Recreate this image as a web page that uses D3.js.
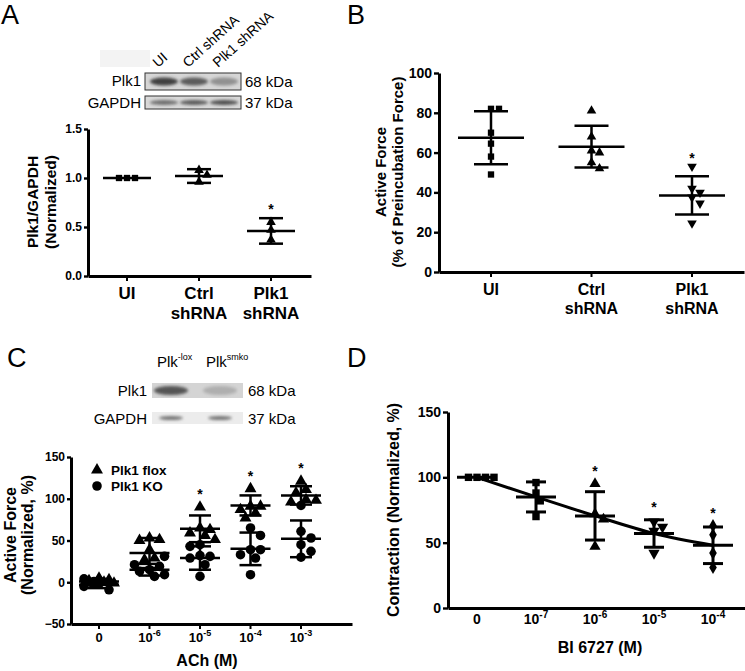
<!DOCTYPE html>
<html><head><meta charset="utf-8">
<script src="https://cdn.jsdelivr.net/npm/d3@7"></script>
<style>
body{margin:0;background:#fff}
svg{display:block}
text{font-family:"Liberation Sans",Arial,Helvetica,sans-serif;fill:#000}
</style>
</head><body>
<script>
// ================= DATA =================
// Panel A
const aCategories = ["UI", "Ctrl shRNA", "Plk1 shRNA"];
const aTickLabels = [["UI"], ["Ctrl", "shRNA"], ["Plk1", "shRNA"]];
const aValues = [[1.0, 1.0, 1.0], [1.08, 1.03, 0.96], [0.55, 0.47, 0.37]];
const aMeans = [1.0, 1.02, 0.46];
const aSDs = [0.0, 0.07, 0.13];
const aSignif = [false, false, true];
const aSymbols = ["square", "triangle", "triangle"];
const aTicks = [0, 0.5, 1.0, 1.5];
const aBlotLanes = ["UI", "Ctrl shRNA", "Plk1 shRNA"];
const aBlotPlk1 = [0.85, 0.72, 0.45];
const aBlotGapdh = [0.62, 0.72, 0.78];

// Panel B
const bCategories = ["UI", "Ctrl shRNA", "Plk1 shRNA"];
const bTickLabels = [["UI"], ["Ctrl", "shRNA"], ["Plk1", "shRNA"]];
const bValues = [
  [82, 82, 70, 64.5, 58, 49],
  [81, 68, 61, 60, 55, 52],
  [53, 42, 40, 37.5, 34.5, 24.5]
];
const bMeans = [67.5, 63, 38.5];
const bSDs = [13.3, 10.5, 9.6];
const bSignif = [false, false, true];
const bSymbols = ["square", "triangle", "triangleDown"];
const bTicks = [0, 20, 40, 60, 80, 100];

// Panel C
const cCategories = ["0", "-6", "-5", "-4", "-3"];
const cSeries = ["Plk1 flox", "Plk1 KO"];
const cFlox = [
  [5, 3, 2, 0, -1, -3],
  [53, 51, 50, 39, 29, 27],
  [90, 65, 63, 59, 56, 51],
  [112, 91, 91, 87, 83, 77],
  [121, 111, 107, 99, 98, 96]
];
const cKO = [
  [4, 1, -2, -5, -9, 2],
  [31, 21, 19, 15, 13, 9, 7],
  [45, 43, 32, 31, 29, 21, 7],
  [65, 56, 39, 39, 33, 29, 9],
  [92, 61, 53, 45, 37, 30]
];
const cFloxMean = [1, 35, 64, 92, 104];
const cFloxSD = [3, 18, 16, 12, 11];
const cKOMean = [-3, 15, 29, 40, 52];
const cKOSD = [4, 7, 14, 19.5, 22];
const cSignif = [false, false, true, true, true];
const cTicks = [-50, 0, 50, 100, 150];
const cBlotLanes = ["-lox", "smko"];
const cBlotPlk1 = [0.75, 0.3];
const cBlotGapdh = [0.6, 0.6];

// Panel D
const dCategories = ["0", "-7", "-6", "-5", "-4"];
const dValues = [
  [100, 100, 100, 100],
  [96, 88, 82, 70],
  [95, 72, 68, 47],
  [66, 62, 59, 42],
  [63, 56, 42, 31]
];
const dMeans = [100, 85, 70.5, 57, 48];
const dSDs = [0, 11.5, 18.5, 10.5, 14];
const dSignif = [false, false, true, true, true];
const dSymbols = ["square", "square", "triangle", "triangleDown", "diamond"];
const dTicks = [0, 50, 100, 150];

// ================= DRAWING =================
const W = 745, H = 671;
const svg = d3.select("body").append("svg").attr("width", W).attr("height", H);
const FONT = '"Liberation Sans",Arial,Helvetica,sans-serif';

function symbolPath(kind, area) {
  const map = {square: d3.symbolSquare, triangle: d3.symbolTriangle, triangleDown: d3.symbolTriangle,
               diamond: d3.symbolDiamond, circle: d3.symbolCircle};
  return d3.symbol().type(map[kind]).size(area)();
}

// simple deterministic dodge layout, limited to +/- maxSpread pixels
function dodge(values, y, diam, maxSpread) {
  const placed = [];
  const step = diam * 0.5;
  const cands = [0];
  for (let k = 1; k * step <= maxSpread; k++) { cands.push(k * step, -k * step); }
  return values.map(v => {
    const py = y(v);
    let best = 0, bestD = -1;
    for (const cand of cands) {
      const dmin = placed.length ? d3.min(placed, p => Math.hypot(p.dx - cand, p.y - py)) : Infinity;
      if (dmin >= diam * 0.95) { best = cand; bestD = Infinity; break; }
      if (dmin > bestD) { bestD = dmin; best = cand; }
    }
    placed.push({dx: best, y: py});
    return best;
  });
}

function styleAxis(g, w, fs) {
  g.select(".domain").attr("stroke", "#000").attr("stroke-width", w);
  g.selectAll(".tick line").attr("stroke", "#000").attr("stroke-width", w * 0.8);
  g.selectAll(".tick text").attr("font-family", FONT).attr("font-weight", "bold")
    .attr("font-size", fs).attr("fill", "#000");
}

function errorBars(g, cx, y, mean, sd, meanHalf, capHalf, sw) {
  if (sd > 0) {
    g.append("line").attr("x1", cx).attr("x2", cx).attr("y1", y(mean - sd)).attr("y2", y(mean + sd))
      .attr("stroke", "#000").attr("stroke-width", sw);
    [mean - sd, mean + sd].forEach(v => g.append("line")
      .attr("x1", cx - capHalf).attr("x2", cx + capHalf).attr("y1", y(v)).attr("y2", y(v))
      .attr("stroke", "#000").attr("stroke-width", sw));
  }
  g.append("line").attr("x1", cx - meanHalf).attr("x2", cx + meanHalf).attr("y1", y(mean)).attr("y2", y(mean))
    .attr("stroke", "#000").attr("stroke-width", sw);
}

function points(g, cx, y, vals, kind, area, diam, dxs, spread) {
  const offs = dxs || dodge(vals, y, diam, spread || 30);
  vals.forEach((v, i) => {
    g.append("path").attr("d", symbolPath(kind, area))
      .attr("transform", `translate(${cx + offs[i]},${y(v)})` + (kind === "triangleDown" ? " rotate(180)" : ""))
      .attr("fill", "#000");
  });
}

function star(g, cx, yc, fs) {
  g.append("text").attr("x", cx).attr("y", yc + fs * 0.57).attr("text-anchor", "middle")
    .attr("font-size", fs).attr("font-weight", "bold").text("*");
}

function rotLabel(g, x, y, lines, fs, gap) {
  const t = g.append("g").attr("transform", `translate(${x},${y}) rotate(-90)`);
  lines.forEach((l, i) => t.append("text").attr("x", 0).attr("y", i * gap).attr("text-anchor", "middle")
    .attr("font-size", fs).attr("font-weight", "bold").text(l));
}

function panelLetter(x, y, s) {
  svg.append("text").attr("x", x).attr("y", y).attr("font-size", 27).attr("font-family", '"Open Sans",' + FONT).text(s);
}

// defs for blot blur
const defs = svg.append("defs");
defs.append("filter").attr("id", "blur").attr("x", "-30%").attr("y", "-60%").attr("width", "160%").attr("height", "220%")
  .append("feGaussianBlur").attr("stdDeviation", 1.6);

function band(g, cx, cy, w, h, intensity) {
  const c = Math.round(235 - intensity * 200);
  g.append("ellipse").attr("cx", cx).attr("cy", cy).attr("rx", w / 2).attr("ry", h / 2)
    .attr("fill", `rgb(${c},${c},${c})`).attr("filter", "url(#blur)");
}

// ---------- Panel A ----------
(function () {
  const g = svg.append("g");
  panelLetter(1, 24, "A");
  const y = d3.scaleLinear().domain([0, 1.5]).range([276, 129]);
  const x = d3.scalePoint().domain(aCategories).range([127, 271]);
  // blot
  const lx = d3.scalePoint().domain(aBlotLanes).range([164, 224]);
  g.append("rect").attr("x", 100).attr("y", 50).attr("width", 50).attr("height", 17).attr("fill", "#f3f3f3");
  g.append("rect").attr("x", 145).attr("y", 73).attr("width", 96).attr("height", 17).attr("fill", "#d6d6d6").attr("stroke", "#333").attr("stroke-width", 1);
  g.append("rect").attr("x", 145).attr("y", 96).attr("width", 96).attr("height", 13).attr("fill", "#d9d9d9").attr("stroke", "#333").attr("stroke-width", 1);
  aBlotLanes.forEach((l, i) => {
    band(g, lx(l), 81.5, 28, 8, aBlotPlk1[i]);
    band(g, lx(l), 102.5, 28, 5, aBlotGapdh[i]);
    g.append("text").attr("transform", `translate(${lx(l) - 6},68) rotate(-42)`).attr("font-size", 14).text(l);
  });
  g.append("text").attr("x", 141).attr("y", 86).attr("text-anchor", "end").attr("font-size", 15).text("Plk1");
  g.append("text").attr("x", 141).attr("y", 108).attr("text-anchor", "end").attr("font-size", 15).text("GAPDH");
  g.append("text").attr("x", 245).attr("y", 87).attr("font-size", 15).text("68 kDa");
  g.append("text").attr("x", 245).attr("y", 108).attr("font-size", 15).text("37 kDa");
  // axes
  const ya = g.append("g").attr("transform", "translate(88,0)")
    .call(d3.axisLeft(y).tickValues(aTicks).tickFormat(d3.format(".1f")).tickSize(4).tickSizeOuter(0).tickPadding(2));
  styleAxis(ya, 3, 12);
  const xa = g.append("g").attr("transform", "translate(0,276)")
    .call(d3.axisBottom(d3.scaleLinear().domain([0, 1]).range([88, 311])).ticks(0).tickSizeOuter(0));
  styleAxis(xa, 3, 12);
  aCategories.forEach((c, i) => {
    g.append("line").attr("x1", x(c)).attr("x2", x(c)).attr("y1", 276).attr("y2", 281).attr("stroke", "#000").attr("stroke-width", 2);
    aTickLabels[i].forEach((t, j) => g.append("text").attr("x", x(c)).attr("y", 299 + j * 20)
      .attr("text-anchor", "middle").attr("font-size", 17).attr("font-weight", "bold").text(t));
    errorBars(g, x(c), y, aMeans[i], aSDs[i], 24, 12, 2.5);
    points(g, x(c), y, aValues[i], aSymbols[i], 40, 8);
    if (aSignif[i]) star(g, x(c), y(Math.max(d3.max(aValues[i]), aMeans[i] + aSDs[i])) - 12, 14);
  });
  rotLabel(g, 38, 202, ["Plk1/GAPDH", "(Normalized)"], 15.5, 18);
})();

// ---------- Panel B ----------
(function () {
  const g = svg.append("g");
  panelLetter(347, 24, "B");
  const y = d3.scaleLinear().domain([0, 100]).range([272, 73]);
  const x = d3.scalePoint().domain(bCategories).range([491, 692]);
  const ya = g.append("g").attr("transform", "translate(439,0)")
    .call(d3.axisLeft(y).tickValues(bTicks).tickSize(5).tickSizeOuter(0).tickPadding(2));
  styleAxis(ya, 3, 14);
  const xa = g.append("g").attr("transform", "translate(0,272)")
    .call(d3.axisBottom(d3.scaleLinear().domain([0, 1]).range([439, 744])).ticks(0).tickSizeOuter(0));
  styleAxis(xa, 3, 12);
  bCategories.forEach((c, i) => {
    g.append("line").attr("x1", x(c)).attr("x2", x(c)).attr("y1", 272).attr("y2", 277).attr("stroke", "#000").attr("stroke-width", 2);
    bTickLabels[i].forEach((t, j) => g.append("text").attr("x", x(c)).attr("y", 295 + j * 19)
      .attr("text-anchor", "middle").attr("font-size", 16).attr("font-weight", "bold").text(t));
    errorBars(g, x(c), y, bMeans[i], bSDs[i], 33, 17, 2.5);
    points(g, x(c), y, bValues[i], bSymbols[i], 40, 8);
    if (bSignif[i]) star(g, x(c), y(Math.max(d3.max(bValues[i]), bMeans[i] + bSDs[i])) - 12, 14);
  });
  rotLabel(g, 386, 172, ["Active Force", "(% of Preincubation Force)"], 15, 17);
})();

// ---------- Panel C ----------
(function () {
  const g = svg.append("g");
  panelLetter(7, 367, "C");
  // blot
  const lx = d3.scalePoint().domain(cBlotLanes).range([171, 220]);
  g.append("rect").attr("x", 152).attr("y", 383).attr("width", 91).attr("height", 15).attr("fill", "#d4d4d4");
  g.append("rect").attr("x", 152).attr("y", 412).attr("width", 91).attr("height", 12).attr("fill", "#ececec");
  cBlotLanes.forEach((l, i) => {
    band(g, lx(l), 390.5, 34, 9, cBlotPlk1[i]);
    band(g, lx(l), 418, 24, 4, cBlotGapdh[i]);
    const t = g.append("text").attr("x", lx(l) - 14).attr("y", 367).attr("font-size", 15);
    t.append("tspan").text("Plk");
    t.append("tspan").attr("dy", -7).attr("font-size", 9).text(l);
  });
  g.append("text").attr("x", 147).attr("y", 396).attr("text-anchor", "end").attr("font-size", 15).text("Plk1");
  g.append("text").attr("x", 147).attr("y", 424).attr("text-anchor", "end").attr("font-size", 15).text("GAPDH");
  g.append("text").attr("x", 248).attr("y", 396).attr("font-size", 15).text("68 kDa");
  g.append("text").attr("x", 248).attr("y", 424).attr("font-size", 15).text("37 kDa");
  // chart
  const y = d3.scaleLinear().domain([-50, 150]).range([624, 457]);
  const x = d3.scalePoint().domain(cCategories).range([99, 301]);
  const ya = g.append("g").attr("transform", "translate(71,0)")
    .call(d3.axisLeft(y).tickValues(cTicks).tickSize(4).tickSizeOuter(0).tickPadding(2));
  styleAxis(ya, 3, 12);
  const xa = g.append("g").attr("transform", "translate(0,624)")
    .call(d3.axisBottom(d3.scaleLinear().domain([0, 1]).range([71, 352])).ticks(0).tickSizeOuter(0));
  styleAxis(xa, 3, 12);
  cCategories.forEach((c, i) => {
    g.append("line").attr("x1", x(c)).attr("x2", x(c)).attr("y1", 624).attr("y2", 629).attr("stroke", "#000").attr("stroke-width", 2);
    const t = g.append("text").attr("x", x(c)).attr("y", 642).attr("text-anchor", "middle").attr("font-size", 13).attr("font-weight", "bold");
    if (c === "0") t.text("0");
    else { t.append("tspan").text("10"); t.append("tspan").attr("dy", -6).attr("font-size", 9).text(c); }
    errorBars(g, x(c), y, cFloxMean[i], cFloxSD[i], 20, 11, 2.5);
    errorBars(g, x(c), y, cKOMean[i], cKOSD[i], 20, 11, 2.5);
    const all = cFlox[i].concat(cKO[i]);
    const offs = dodge(all, y, 10, 15);
    points(g, x(c), y, cFlox[i], "triangle", 62, 10, offs.slice(0, cFlox[i].length));
    points(g, x(c), y, cKO[i], "circle", 72, 10, offs.slice(cFlox[i].length));
    if (cSignif[i]) star(g, x(c), y(Math.max(d3.max(all), cFloxMean[i] + cFloxSD[i])) - 16, 14);
  });
  // legend
  const syms = ["triangle", "circle"];
  const ly = d3.scalePoint().domain(cSeries).range([470, 486]);
  cSeries.forEach((s, i) => {
    g.append("path").attr("d", symbolPath(syms[i], syms[i] === "circle" ? 72 : 62)).attr("transform", `translate(97,${ly(s)})`);
    g.append("text").attr("x", 111).attr("y", ly(s) + 5).attr("font-size", 13.5).attr("font-weight", "bold").text(s);
  });
  rotLabel(g, 16, 535, ["Active Force", "(Normalized, %)"], 16, 17);
  g.append("text").attr("x", 207).attr("y", 666).attr("text-anchor", "middle").attr("font-size", 16).attr("font-weight", "bold").text("ACh (M)");
})();

// ---------- Panel D ----------
(function () {
  const g = svg.append("g");
  panelLetter(347, 367, "D");
  const y = d3.scaleLinear().domain([0, 150]).range([608, 412]);
  const x = d3.scalePoint().domain(dCategories).range([477, 713]);
  const ya = g.append("g").attr("transform", "translate(448,0)")
    .call(d3.axisLeft(y).tickValues(dTicks).tickSize(5).tickSizeOuter(0).tickPadding(2));
  styleAxis(ya, 3, 14);
  const xa = g.append("g").attr("transform", "translate(0,608)")
    .call(d3.axisBottom(d3.scaleLinear().domain([0, 1]).range([448, 745])).ticks(0).tickSizeOuter(0));
  styleAxis(xa, 3, 12);
  // fit line through means
  g.append("path").datum(dCategories.map((c, i) => [x(c), y(dMeans[i])]))
    .attr("d", d3.line().curve(d3.curveMonotoneX)).attr("fill", "none").attr("stroke", "#000").attr("stroke-width", 3);
  dCategories.forEach((c, i) => {
    const t = g.append("text").attr("x", x(c)).attr("y", 624).attr("text-anchor", "middle").attr("font-size", 14).attr("font-weight", "bold");
    if (c === "0") t.text("0");
    else { t.append("tspan").text("10"); t.append("tspan").attr("dy", -6).attr("font-size", 10).text(c); }
    errorBars(g, x(c), y, dMeans[i], dSDs[i], 20, 10, 3);
    points(g, x(c), y, dValues[i], dSymbols[i], dSymbols[i] === "diamond" ? 50 : 55, 8.5);
    if (dSignif[i]) star(g, x(c), y(Math.max(d3.max(dValues[i]), dMeans[i] + dSDs[i])) - 16, 14);
  });
  rotLabel(g, 399, 510, ["Contraction (Normalized, %)"], 16, 17);
  g.append("text").attr("x", 600).attr("y", 653).attr("text-anchor", "middle").attr("font-size", 16).attr("font-weight", "bold").text("BI 6727 (M)");
})();
</script>
</body></html>
